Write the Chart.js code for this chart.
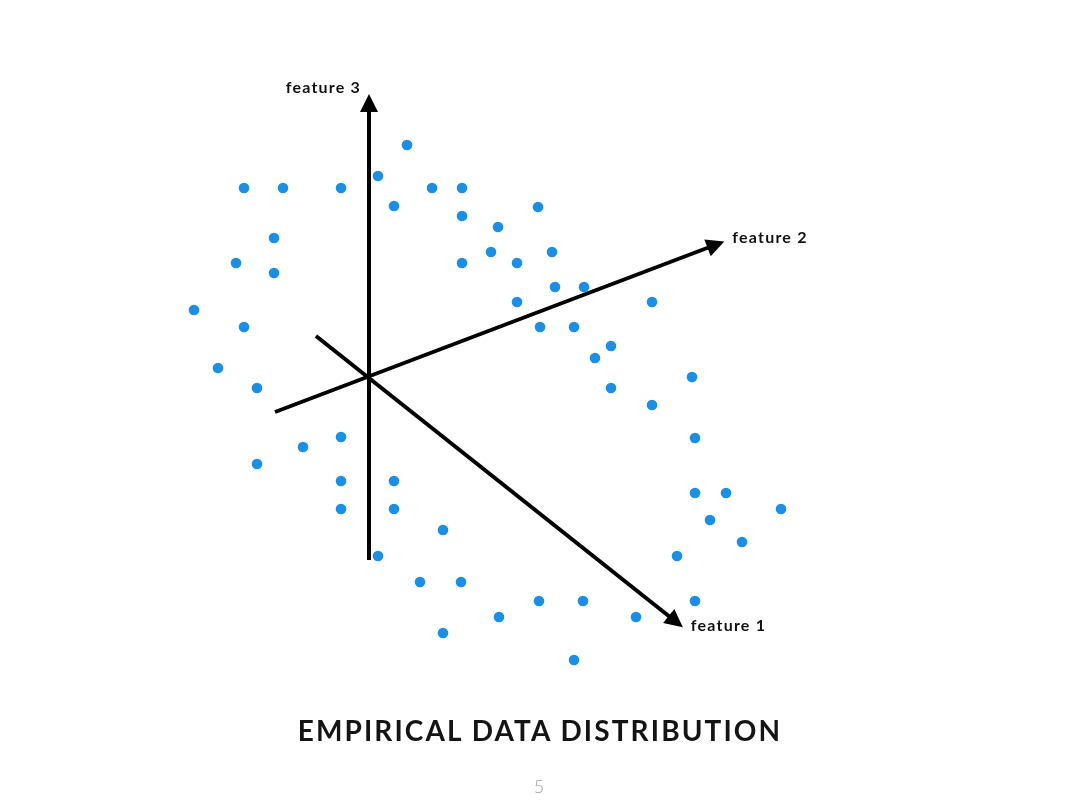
<!DOCTYPE html>
<html>
<head>
<meta charset="utf-8">
<script src="https://cdn.jsdelivr.net/npm/chart.js@4/dist/chart.umd.min.js"></script>
<style>
  html, body { margin: 0; padding: 0; background: #fff; }
  #wrap { position: relative; width: 1080px; height: 810px; }
  #myChart { display: block; }
  #title {
    position: absolute; left: 0; width: 1080px; top: 713px;
    text-align: center; font-family: Lato, "Noto Sans", sans-serif;
    font-weight: 700; font-size: 28px; color: #141414; letter-spacing: 2.1px;
  }
  #page {
    position: absolute; left: 0; width: 1078px; top: 775px;
    text-align: center; font-family: Lato, sans-serif; font-weight: 300;
    font-size: 18px; color: #a0a0a0;
  }
</style>
</head>
<body>
<div id="wrap">
  <canvas id="myChart" width="1080" height="810"></canvas>
  <div id="title">EMPIRICAL DATA DISTRIBUTION</div>
  <div id="page">5</div>
</div>
<script>
// sample points (x, y), in picture units
let pointsX = [407, 244, 283, 341, 378, 432, 462, 394, 462, 498, 538, 274, 236, 274, 462, 491, 517, 552, 517, 555,
               584, 652, 194, 244, 540, 574, 611, 595, 218, 257, 611, 692, 652, 341, 303, 257, 695, 341, 394, 341,
               394, 695, 726, 781, 710, 742, 443, 378, 677, 420, 461, 695, 539, 583, 499, 636, 443, 574];
let pointsY = [145, 188, 188, 188, 176, 188, 188, 206, 216, 227, 207, 238, 263, 273, 263, 252, 263, 252, 302, 287,
               287, 302, 310, 327, 327, 327, 346, 358, 368, 388, 388, 377, 405, 437, 447, 464, 438, 481, 481, 509,
               509, 493, 493, 509, 520, 542, 530, 556, 556, 582, 582, 601, 601, 601, 617, 617, 633, 660];

// axes: start point and end point (end sits just behind the arrow tip)
let axisNames = ['feature 1', 'feature 2', 'feature 3'];
let axisStartX = [316, 275, 369];
let axisStartY = [336, 412, 560];
let axisEndX = [675, 715, 369];
let axisEndY = [621, 245, 104];

let pts = new Array();
for (let i = 0; i < pointsX.length; i++) {
    pts[i] = { x: pointsX[i], y: pointsY[i] };
}

let datasets = new Array();
datasets.push({
    label: 'data',
    data: pts,
    backgroundColor: '#1b8ee6',
    borderWidth: 0,
    pointRadius: 5.3,
    pointHoverRadius: 5.3,
    order: 1
});
for (let i = 0; i < axisNames.length; i++) {
    datasets.push({
        label: axisNames[i],
        data: [{ x: axisStartX[i], y: axisStartY[i] }, { x: axisEndX[i], y: axisEndY[i] }],
        showLine: true,
        borderColor: '#000',
        borderWidth: 4,
        pointRadius: 0,
        borderCapStyle: 'butt',
        order: 2
    });
}

// arrow heads + axis labels
const arrowPlugin = {
    id: 'arrows',
    afterDatasetsDraw(chart) {
        const ctx = chart.ctx;
        const xs = chart.scales.x, ys = chart.scales.y;
        ctx.save();
        for (let i = 0; i < axisNames.length; i++) {
            let x0 = xs.getPixelForValue(axisStartX[i]), y0 = ys.getPixelForValue(axisStartY[i]);
            let x1 = xs.getPixelForValue(axisEndX[i]), y1 = ys.getPixelForValue(axisEndY[i]);
            let len = Math.hypot(x1 - x0, y1 - y0);
            let ux = (x1 - x0) / len, uy = (y1 - y0) / len;
            let tipX = x1 + ux * 10, tipY = y1 + uy * 10;
            let bx = x1 - ux * 8, by = y1 - uy * 8;
            ctx.fillStyle = '#000';
            ctx.beginPath();
            ctx.moveTo(tipX, tipY);
            ctx.lineTo(bx - uy * 9, by + ux * 9);
            ctx.lineTo(bx + uy * 9, by - ux * 9);
            ctx.closePath();
            ctx.fill();

            ctx.font = '700 16px Lato, "Noto Sans", sans-serif';
            ctx.letterSpacing = '1.2px';
            ctx.fillStyle = '#111';
            ctx.textBaseline = 'middle';
            if (axisNames[i] == 'feature 3') {
                ctx.textAlign = 'right';
                ctx.fillText(axisNames[i], tipX - 8, tipY - 6);
            } else if (axisNames[i] == 'feature 2') {
                ctx.textAlign = 'left';
                ctx.fillText(axisNames[i], tipX + 8, tipY - 4);
            } else {
                ctx.textAlign = 'left';
                ctx.fillText(axisNames[i], tipX + 8, tipY - 1);
            }
        }
        ctx.restore();
    }
};

var ctx = document.getElementById('myChart').getContext('2d');
var myChart = new Chart(ctx, {
    type: 'scatter',
    data: { datasets: datasets },
    options: {
        responsive: false,
        animation: false,
        layout: { padding: 0, autoPadding: false },
        plugins: { legend: { display: false }, tooltip: { enabled: false } },
        scales: {
            x: { type: 'linear', min: 0, max: 1080, display: false },
            y: { type: 'linear', min: 0, max: 810, reverse: true, display: false }
        }
    },
    plugins: [arrowPlugin]
});
</script>
</body>
</html>
